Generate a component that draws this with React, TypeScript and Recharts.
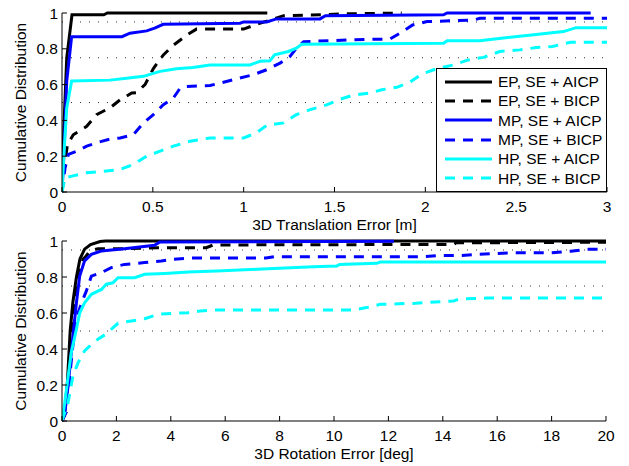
import React from 'react';
import { LineChart, Line, XAxis, YAxis, ReferenceLine, Legend, Label } from 'recharts';

// ---------- series meta ----------
const seriesNames = ['EP, SE + AICP', 'EP, SE + BICP', 'MP, SE + AICP', 'MP, SE + BICP', 'HP, SE + AICP', 'HP, SE + BICP'];
const seriesColors = ['#000000', '#000000', '#0000ff', '#0000ff', '#00ffff', '#00ffff'];
const seriesDashed = [false, true, false, true, false, true];

// ---------- ticks / labels ----------
const transTicks = [0, 0.5, 1, 1.5, 2, 2.5, 3];
const rotTicks = [0, 2, 4, 6, 8, 10, 12, 14, 16, 18, 20];
const yTicks = [0, 0.2, 0.4, 0.6, 0.8, 1];
const gridLevels = [0.5, 0.75, 0.95];
const transXLabel = '3D Translation Error [m]';
const rotXLabel = '3D Rotation Error [deg]';
const yLabel = 'Cumulative Distribution';

// ---------- translation error CDFs [x, y] ----------
const transEpAicp = [[0, 0], [0.01, 0.35], [0.026, 0.75], [0.055, 0.99], [0.23, 0.99], [0.25, 1.0], [1.13, 1.0]];
const transEpBicp = [[0, 0], [0.01, 0.12], [0.03, 0.265], [0.062, 0.32], [0.136, 0.367], [0.19, 0.432], [0.264, 0.47], [0.32, 0.515], [0.384, 0.553], [0.41, 0.555], [0.457, 0.6], [0.503, 0.69], [0.558, 0.766], [0.613, 0.82], [0.687, 0.877], [0.74, 0.91], [1.0, 0.91], [1.07, 0.937], [1.145, 0.96], [1.22, 0.985], [1.44, 0.99], [1.55, 0.995], [1.87, 1.0]];
const transMpAicp = [[0, 0], [0.01, 0.2], [0.026, 0.62], [0.053, 0.868], [0.33, 0.868], [0.374, 0.887], [0.466, 0.9], [0.51, 0.915], [0.557, 0.937], [0.98, 0.943], [1.0, 0.95], [1.127, 0.95], [1.18, 0.967], [1.42, 0.967], [1.45, 0.985], [2.1, 0.99], [2.12, 1.0], [2.91, 1.0]];
const transMpBicp = [[0, 0], [0.017, 0.135], [0.035, 0.21], [0.08, 0.228], [0.136, 0.256], [0.19, 0.275], [0.255, 0.293], [0.32, 0.302], [0.393, 0.32], [0.448, 0.386], [0.503, 0.432], [0.558, 0.488], [0.613, 0.525], [0.65, 0.58], [0.687, 0.59], [0.815, 0.595], [0.87, 0.608], [0.962, 0.632], [1.053, 0.655], [1.127, 0.683], [1.2, 0.72], [1.255, 0.757], [1.29, 0.803], [1.33, 0.84], [1.586, 0.85], [1.806, 0.855], [1.86, 0.887], [1.93, 0.933], [2.01, 0.952], [2.26, 0.96], [2.3, 0.97], [3, 0.97]];
const transHpAicp = [[0, 0], [0.01, 0.2], [0.026, 0.47], [0.053, 0.62], [0.264, 0.625], [0.356, 0.636], [0.448, 0.646], [0.54, 0.674], [0.63, 0.688], [0.72, 0.696], [0.815, 0.71], [1.035, 0.71], [1.09, 0.73], [1.145, 0.733], [1.17, 0.766], [1.246, 0.785], [1.29, 0.803], [1.32, 0.826], [2.1, 0.831], [2.12, 0.845], [2.3, 0.845], [2.43, 0.86], [2.61, 0.88], [2.76, 0.896], [2.83, 0.918], [3, 0.918]];
const transHpBicp = [[0, 0], [0.017, 0.08], [0.06, 0.09], [0.136, 0.107], [0.227, 0.115], [0.32, 0.126], [0.393, 0.154], [0.466, 0.2], [0.54, 0.228], [0.613, 0.256], [0.705, 0.284], [0.815, 0.302], [1.0, 0.302], [1.07, 0.33], [1.127, 0.373], [1.22, 0.386], [1.29, 0.432], [1.366, 0.46], [1.46, 0.488], [1.53, 0.518], [1.6, 0.54], [1.696, 0.553], [1.76, 0.571], [1.843, 0.585], [1.916, 0.614], [1.98, 0.659], [2.06, 0.688], [2.155, 0.71], [2.237, 0.738], [2.32, 0.752], [2.41, 0.785], [2.52, 0.794], [2.61, 0.807], [2.7, 0.813], [2.8, 0.837], [3, 0.837]];

// ---------- rotation error CDFs [x, y] ----------
const rotEpAicp = [[0, 0], [0.1, 0.05], [0.2, 0.22], [0.3, 0.5], [0.4, 0.66], [0.53, 0.8], [0.66, 0.9], [0.83, 0.955], [1.05, 0.98], [1.4, 0.997], [1.6, 1.0], [20, 1.0]];
const rotEpBicp = [[0, 0], [0.15, 0.05], [0.25, 0.2], [0.4, 0.565], [0.59, 0.787], [0.77, 0.898], [0.89, 0.917], [1.02, 0.944], [1.32, 0.957], [2.3, 0.957], [3.53, 0.963], [5.3, 0.963], [5.56, 0.978], [14.4, 0.981], [14.5, 0.99], [20, 0.993]];
const rotMpAicp = [[0, 0], [0.1, 0.04], [0.22, 0.19], [0.4, 0.47], [0.53, 0.657], [0.65, 0.805], [0.83, 0.89], [1.08, 0.926], [1.44, 0.944], [2.3, 0.957], [3.4, 0.976], [3.6, 0.995], [12.2, 0.998]];
const rotMpBicp = [[0, 0], [0.15, 0.05], [0.25, 0.2], [0.4, 0.417], [0.59, 0.6], [0.77, 0.676], [0.89, 0.72], [1.08, 0.805], [1.45, 0.824], [1.81, 0.852], [2.3, 0.87], [3.04, 0.88], [3.65, 0.889], [4.02, 0.898], [4.63, 0.905], [7.5, 0.905], [7.8, 0.913], [13.3, 0.913], [13.9, 0.92], [14.7, 0.92], [15.25, 0.926], [16.6, 0.935], [18.0, 0.935], [18.7, 0.943], [19.3, 0.954], [20, 0.954]];
const rotHpAicp = [[0, 0], [0.1, 0.1], [0.34, 0.38], [0.53, 0.51], [0.65, 0.6], [0.83, 0.657], [1.08, 0.704], [1.45, 0.731], [1.63, 0.76], [1.87, 0.768], [2.06, 0.796], [2.67, 0.796], [3.04, 0.815], [3.78, 0.82], [4.63, 0.828], [5.69, 0.833], [7.16, 0.843], [8.0, 0.848], [9.24, 0.857], [10.1, 0.861], [10.2, 0.87], [11.57, 0.876], [11.7, 0.883], [20, 0.883]];
const rotHpBicp = [[0, 0], [0.04, 0.02], [0.22, 0.1], [0.4, 0.25], [0.59, 0.324], [0.83, 0.389], [1.08, 0.426], [1.32, 0.454], [1.69, 0.49], [1.87, 0.518], [2.06, 0.543], [2.55, 0.556], [3.04, 0.568], [3.53, 0.593], [4.63, 0.602], [5.07, 0.611], [5.56, 0.617], [10.7, 0.617], [11.2, 0.63], [11.7, 0.648], [13.0, 0.654], [13.9, 0.663], [14.4, 0.667], [14.6, 0.678], [15.6, 0.683], [20, 0.683]];

const transSeries = [transEpAicp, transEpBicp, transMpAicp, transMpBicp, transHpAicp, transHpBicp];
const rotSeries = [rotEpAicp, rotEpBicp, rotMpAicp, rotMpBicp, rotHpAicp, rotHpBicp];

const FONT = '"Liberation Sans", Arial, Helvetica, sans-serif';
const FS = 15.5;
const LW = 3;
const DASH = '10 8';

const toPoints = (arr: number[][]) => arr.map(([x, y]) => ({ x, y }));

const XTick = (props: any) => {
  const { x, y, payload } = props;
  return (
    <g>
      <line x1={x} x2={x} y1={y} y2={y - 5} stroke="#000" strokeWidth={1} />
      <text x={x} y={y + 20} textAnchor="middle" fontSize={FS} fontFamily={FONT} fill="#000">
        {payload.value}
      </text>
    </g>
  );
};

const YTick = (props: any) => {
  const { x, y, payload } = props;
  return (
    <g>
      <line x1={x} x2={x + 5} y1={y} y2={y} stroke="#000" strokeWidth={1} />
      <text x={x - 4} y={y + 5.5} textAnchor="end" fontSize={FS} fontFamily={FONT} fill="#000">
        {payload.value}
      </text>
    </g>
  );
};

const makeXLabel = (text: string) => (props: any) => {
  const vb = props.viewBox || {};
  return (
    <text x={vb.x + vb.width / 2} y={vb.y + 37.5} textAnchor="middle" fontSize={FS} fontFamily={FONT} fill="#000">
      {text}
    </text>
  );
};

const makeYLabel = (text: string) => (props: any) => {
  const vb = props.viewBox || {};
  const cx = 25.5;
  const cy = vb.y + vb.height / 2;
  return (
    <text x={cx} y={cy} transform={`rotate(-90, ${cx}, ${cy})`} textAnchor="middle" fontSize={FS} fontFamily={FONT} fill="#000">
      {text}
    </text>
  );
};

const LegendBox = () => (
  <div
    style={{
      width: 171,
      height: 124,
      border: '1px solid #000',
      background: '#fff',
      boxSizing: 'border-box',
      fontFamily: FONT,
      fontSize: FS,
      color: '#000',
      paddingTop: 3,
    }}
  >
    {seriesNames.map((n, i) => (
      <div key={n} style={{ display: 'flex', alignItems: 'center', height: 19.3, whiteSpace: 'nowrap' }}>
        <svg width={61} height={10} style={{ flex: 'none' }}>
          <line
            x1={8}
            x2={55}
            y1={5}
            y2={5}
            stroke={seriesColors[i]}
            strokeWidth={LW}
            strokeDasharray={seriesDashed[i] ? DASH : undefined}
          />
        </svg>
        <span style={{ lineHeight: '19px' }}>{n}</span>
      </div>
    ))}
  </div>
);

const renderLines = (series: number[][][], prefix: string) =>
  series.map((arr, i) => (
    <Line
      key={prefix + i}
      data={toPoints(arr)}
      dataKey="y"
      name={seriesNames[i]}
      type="linear"
      stroke={seriesColors[i]}
      strokeWidth={LW}
      strokeDasharray={seriesDashed[i] ? DASH : undefined}
      dot={false}
      activeDot={false}
      isAnimationActive={false}
    />
  ));

const renderGrid = (prefix: string) =>
  gridLevels.map((g) => (
    <ReferenceLine key={prefix + g} y={g} stroke="#333" strokeWidth={1} strokeDasharray="1 8" ifOverflow="extendDomain" />
  ));

export default function App() {
  return (
    <div style={{ position: 'absolute', left: 0, top: 0, width: 629, height: 466, background: '#fff' }}>
      <div style={{ position: 'absolute', left: 0, top: 0 }}>
        <LineChart width={629} height={233} margin={{ top: 13, right: 22, bottom: 0, left: 0 }}>
          <XAxis
            type="number"
            dataKey="x"
            domain={[0, 3]}
            ticks={transTicks}
            allowDataOverflow
            height={41}
            tickSize={0}
            tickMargin={0}
            tick={<XTick />}
            axisLine={{ stroke: '#000', strokeWidth: 1 }}
            tickLine={false}
            interval={0}
          >
            <Label content={makeXLabel(transXLabel)} />
          </XAxis>
          <YAxis
            type="number"
            domain={[0, 1]}
            ticks={yTicks}
            width={62}
            tickSize={0}
            tickMargin={0}
            tick={<YTick />}
            axisLine={{ stroke: '#000', strokeWidth: 1 }}
            tickLine={false}
            interval={0}
          >
            <Label content={makeYLabel(yLabel)} />
          </YAxis>
          {renderGrid('t')}
          {renderLines(transSeries, 't')}
          <Legend
            layout="vertical"
            align="center"
            verticalAlign="middle"
            content={<LegendBox />}
            wrapperStyle={{ left: 436, top: 68, width: 171, height: 124 }}
          />
        </LineChart>
      </div>
      <div style={{ position: 'absolute', left: 0, top: 228 }}>
        <LineChart width={629} height={234} margin={{ top: 13, right: 23, bottom: 0, left: 0 }}>
          <XAxis
            type="number"
            dataKey="x"
            domain={[0, 20]}
            ticks={rotTicks}
            allowDataOverflow
            height={41}
            tickSize={0}
            tickMargin={0}
            tick={<XTick />}
            axisLine={{ stroke: '#000', strokeWidth: 1 }}
            tickLine={false}
            interval={0}
          >
            <Label content={makeXLabel(rotXLabel)} />
          </XAxis>
          <YAxis
            type="number"
            domain={[0, 1]}
            ticks={yTicks}
            width={62}
            tickSize={0}
            tickMargin={0}
            tick={<YTick />}
            axisLine={{ stroke: '#000', strokeWidth: 1 }}
            tickLine={false}
            interval={0}
          >
            <Label content={makeYLabel(yLabel)} />
          </YAxis>
          {renderGrid('b')}
          {renderLines(rotSeries, 'b')}
        </LineChart>
      </div>
    </div>
  );
}
